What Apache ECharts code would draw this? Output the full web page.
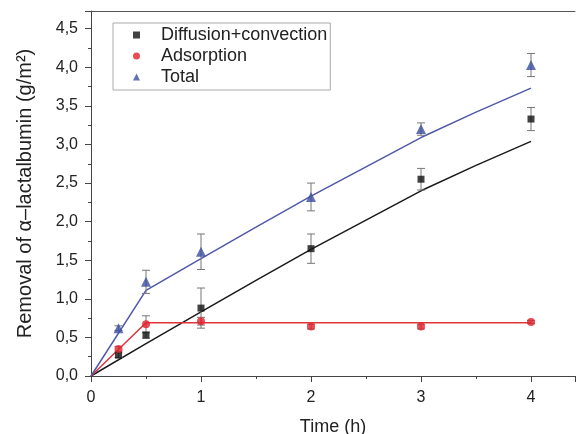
<!DOCTYPE html>
<html><head><meta charset="utf-8">
<script src="https://cdn.jsdelivr.net/npm/echarts@6/dist/echarts.min.js"></script>
<style>html,body{margin:0;padding:0;background:#fff}#c{width:576px;height:434px}</style>
</head><body><div id="c"></div>
<script>
const times=[0.25,0.5,1,2,3,4];
const diffVals=[0.27,0.53,0.88,1.65,2.55,3.33];
const diffErr=[0.03,0.04,0.26,0.19,0.14,0.15];
const adsVals=[0.35,0.67,0.71,0.64,0.64,0.70];
const adsErr=[0.03,0.11,0.05,0.03,0.03,0.02];
const totVals=[0.62,1.22,1.61,2.32,3.20,4.03];
const totErr=[0.03,0.15,0.23,0.18,0.08,0.15];
const fitTimes=[0,0.5,1,1.5,2,2.5,3,3.5,4];
const diffFit=[0,0.42,0.83,1.24,1.64,2.02,2.40,2.73,3.04];
const adsFit=[0,0.69,0.69,0.69,0.69,0.69,0.69,0.69,0.69];
const totFit=[0,1.11,1.52,1.93,2.33,2.71,3.09,3.42,3.73];
const xTicks=[0,1,2,3,4];
const yTicks=[0,0.5,1,1.5,2,2.5,3,3.5,4,4.5];

const FONT='Liberation Sans';
const pairs=(xs,ys)=>xs.map((x,i)=>[x,ys[i]]);
const errData=(vals,errs)=>times.map((t,i)=>[t,vals[i],errs[i]]);
function errSeries(vals,errs){
  return {type:'custom',silent:true,z:3,
    data:errData(vals,errs),encode:{x:0,y:1},
    renderItem:function(params,api){
      const x=api.value(0),y=api.value(1),e=api.value(2);
      const top=api.coord([x,y+e]),bot=api.coord([x,y-e]);
      const w=4;
      const st={stroke:'#777',lineWidth:1};
      return {type:'group',children:[
        {type:'line',shape:{x1:top[0],y1:top[1],x2:bot[0],y2:bot[1]},style:st},
        {type:'line',shape:{x1:top[0]-w,y1:top[1],x2:top[0]+w,y2:top[1]},style:st},
        {type:'line',shape:{x1:bot[0]-w,y1:bot[1],x2:bot[0]+w,y2:bot[1]},style:st}
      ]};
    }};
}
const chart=echarts.init(document.getElementById('c'));
chart.setOption({
  animation:false,
  backgroundColor:'#fff',
  textStyle:{fontFamily:FONT},
  grid:{left:91,top:11,right:1,bottom:58,containLabel:false,outerBoundsMode:'none'},
  legend:{
    orient:'vertical',left:113,top:23,
    padding:[3,3,4,20],itemGap:3,itemWidth:7,itemHeight:7,
    borderColor:'#aaa',borderWidth:1,backgroundColor:'#fff',
    textStyle:{fontFamily:FONT,fontSize:18,color:'#222',padding:[0,0,0,16]},
    data:[{name:'Diffusion+convection',icon:'rect'},{name:'Adsorption',icon:'circle'},{name:'Total',icon:'triangle'}]
  },
  xAxis:[{
    type:'value',min:0,max:4.4,interval:1,position:'bottom',
    name:'Time (h)',nameLocation:'middle',nameGap:42,
    nameTextStyle:{fontFamily:FONT,fontSize:18,color:'#222'},
    axisLine:{lineStyle:{color:'#444',width:1}},
    axisTick:{show:true,inside:false,length:6,lineStyle:{color:'#444'}},
    minorTick:{show:true,splitNumber:2,length:3,lineStyle:{color:'#444'}},
    splitLine:{show:false},
    axisLabel:{fontFamily:FONT,fontSize:16,color:'#222',margin:14,
      formatter:v=>xTicks.includes(v)?String(v):''}
  },{
    type:'value',min:0,max:4.4,position:'top',
    axisLine:{show:true,lineStyle:{color:'#555'}},axisTick:{show:false},
    axisLabel:{show:false},splitLine:{show:false}
  }],
  yAxis:{
    type:'value',min:0,max:4.73,interval:0.5,
    name:'Removal of α–lactalbumin (g/m²)',nameLocation:'middle',nameGap:56,
    nameTextStyle:{fontFamily:FONT,fontSize:20,color:'#222'},
    axisLine:{show:true,lineStyle:{color:'#444',width:1}},
    axisTick:{show:true,inside:false,length:6,lineStyle:{color:'#444'}},
    minorTick:{show:true,splitNumber:2,length:3,lineStyle:{color:'#444'}},
    splitLine:{show:false},
    axisLabel:{fontFamily:FONT,fontSize:16,color:'#222',margin:13,
      formatter:v=>yTicks.some(t=>Math.abs(t-v)<1e-6)?v.toFixed(1).replace('.',','):''}
  },
  series:[
    {name:'fitDiff',type:'line',data:pairs(fitTimes,diffFit),showSymbol:false,symbol:'none',
      lineStyle:{color:'#1a1a1a',width:1.5},z:2,silent:true},
    {name:'fitAds',type:'line',data:pairs(fitTimes,adsFit),showSymbol:false,symbol:'none',
      lineStyle:{color:'#e0343c',width:1.5},z:2,silent:true},
    {name:'fitTot',type:'line',data:pairs(fitTimes,totFit),showSymbol:false,symbol:'none',
      lineStyle:{color:'#5059a8',width:1.5},z:2,silent:true},
    errSeries(diffVals,diffErr),
    errSeries(adsVals,adsErr),
    errSeries(totVals,totErr),
    {name:'Diffusion+convection',type:'scatter',data:pairs(times,diffVals),symbol:'rect',symbolSize:7,
      itemStyle:{color:'#111'},z:5},
    {name:'Adsorption',type:'scatter',data:pairs(times,adsVals),symbol:'circle',symbolSize:8,
      itemStyle:{color:'#e2202c'},z:5},
    {name:'Total',type:'scatter',data:pairs(times,totVals),symbol:'triangle',symbolSize:10,
      itemStyle:{color:'#3a4d9e'},z:5}
  ]
});
</script></body></html>
